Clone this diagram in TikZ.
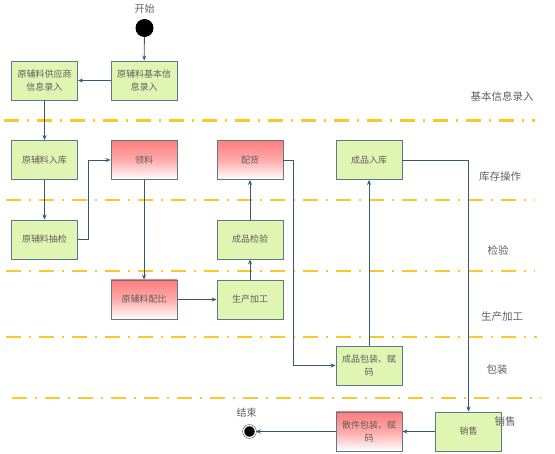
\documentclass[tikz,border=0pt]{standalone}
\usepackage{fontspec}
\setmainfont{Noto Sans CJK SC}
\usepackage{tikz}
\usepackage{xcolor}
\usetikzlibrary{arrows.meta}

\definecolor{boxgreen}{RGB}{224,245,178}
\definecolor{boxred}{RGB}{255,125,125}
\definecolor{boxline}{RGB}{92,122,132}
\definecolor{flowline}{RGB}{52,88,118}
\definecolor{laneline}{RGB}{250,200,40}
\definecolor{txtgray}{RGB}{95,95,95}

\tikzset{
  okbox/.style={draw=boxline, fill=boxgreen, line width=0.9pt, minimum width=66pt, minimum height=39pt,
    align=center, inner sep=1pt, text=txtgray, font=\fontsize{9}{13.5}\selectfont},
  hotbox/.style={okbox, fill=none, top color=boxred, bottom color=white, middle color=boxred!65!white},
  flow/.style={-{Stealth[length=5pt,width=4pt]}, draw=flowline, line width=0.8pt},
  lane/.style={draw=laneline, line width=2.2pt, dash pattern=on 15pt off 8pt on 2pt off 8pt},
  lanename/.style={text=txtgray, font=\fontsize{10.5}{12}\selectfont},
  startpt/.style={circle, fill=black, minimum size=18pt, inner sep=0pt},
  endpt/.style={circle, fill=black, draw=black!80, double=white, double distance=1.2pt, line width=0.5pt,
    minimum size=12pt, inner sep=0pt}
}

\begin{document}
\begin{tikzpicture}[x=1pt, y=-1pt]
				\useasboundingbox (0,0) rectangle (555,454);

				% Swim lane separators
				\draw[lane] (4,120.5) -- (535,120.5);
				\draw[lane] (6,200) -- (535,200);
				\draw[lane] (6,271) -- (535,271);
				\draw[lane] (6,337) -- (537,337);
				\draw[lane] (12,398) -- (541,398);

				% Lane names
				\node[lanename] (laneinfo) at (502,96) {基本信息录入};
				\node[lanename] (lanestock) at (500,177) {库存操作};
				\node[lanename] (lanecheck) at (498,250) {检验};
				\node[lanename] (laneprod) at (502,317) {生产加工};
				\node[lanename] (lanepack) at (497,370) {包装};

				% Start and end
				\node[startpt] (start) at (144.5,28) {};
				\node[lanename, font=\fontsize{10}{12}\selectfont] (startlbl) at (144.5,8.5) {开始};
				\node[endpt] (end) at (249.5,431.5) {};
				\node[lanename, font=\fontsize{10}{12}\selectfont] (endlbl) at (246.5,413) {结束};

				% Basic info
				\node[okbox] (baseinfo) at (144,80.5) {原辅料基本信\\息录入};
				\node[okbox] (supplier) at (44.5,80.5) {原辅料供应商\\信息录入};

				% Stock operations
				\node[okbox] (rawin) at (44.5,160) {原辅料入库};
				\node[hotbox] (pick) at (144,160) {领料};
				\node[hotbox] (dispatch) at (250,160) {配货};
				\node[okbox] (goodsin) at (369,160) {成品入库};

				% Inspection
				\node[okbox] (rawcheck) at (44.5,239.5) {原辅料抽检};
				\node[okbox] (goodscheck) at (250,239.5) {成品检验};

				% Production
				\node[hotbox] (mix) at (144,299.5) {原辅料配比};
				\node[okbox] (make) at (250,299.5) {生产加工};

				% Packing
				\node[okbox] (pack) at (369,365.5) {成品包装、赋\\码};

				% Sales
				\node[okbox] (sale) at (468.5,431.5) {销售};
				\node[hotbox] (partpack) at (369,431.5) {散件包装、赋\\码};
				\node[lanename] (lanesale) at (505,422) {销售};

				% Flow
				\draw[flow] (start) -- (baseinfo);
				\draw[flow] (baseinfo) -- (supplier);
				\draw[flow] (supplier) -- (rawin);
				\draw[flow] (rawin) -- (rawcheck);
				\draw[flow] (rawcheck.east) -- ++(10,0) |- (pick.west);
				\draw[flow] (pick) -- (mix);
				\draw[flow] (mix) -- (make);
				\draw[flow] (make) -- (goodscheck);
				\draw[flow] (goodscheck) -- (dispatch);
				\draw[flow] (dispatch.east) -- ++(10,0) |- (pack.west);
				\draw[flow] (pack) -- (goodsin);
				\draw[flow] (goodsin.east) -| (sale.north);
				\draw[flow] (sale) -- (partpack);
				\draw[flow] (partpack) -- (end);
			\end{tikzpicture}
\end{document}
